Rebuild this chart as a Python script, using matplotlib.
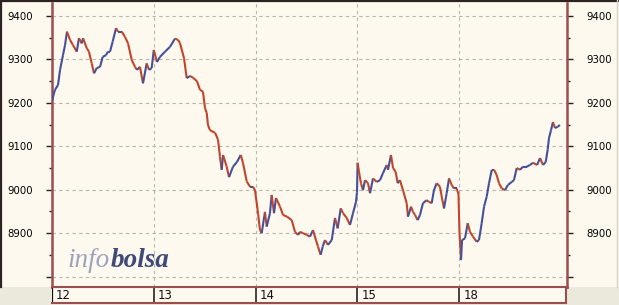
import matplotlib.pyplot as plt
from matplotlib.collections import LineCollection
from matplotlib.lines import Line2D
from matplotlib.patches import Rectangle
import numpy as np

# colours
C_BG = "#fdf9ee"
C_GREY = "#ebe8dc"
C_FRAME = "#9c4e4e"
C_GRID = "#b8b4ac"
C_UP = "#44509a"
C_DOWN = "#c0452c"

# ------------------------------------------------------------
# data: session time (trading-day units) and index level
# ------------------------------------------------------------
day_labels = ["12", "13", "14", "15", "18"]
day_pos = [0, 1, 2, 3, 4]

t = [0.000, 0.029, 0.059, 0.079, 0.108, 0.128, 0.147, 0.177, 0.206, 0.243,
     0.265, 0.292, 0.305, 0.341, 0.363, 0.390, 0.413, 0.439, 0.472, 0.498,
     0.530, 0.550, 0.570, 0.596, 0.629, 0.648, 0.685, 0.717, 0.747, 0.783,
     0.815, 0.835, 0.864, 0.894, 0.930, 0.953, 0.979,
     1.000, 1.031, 1.061, 1.110, 1.159, 1.208, 1.238, 1.257, 1.297, 1.323,
     1.356, 1.385, 1.424, 1.454, 1.483, 1.503, 1.520, 1.532, 1.552, 1.603,
     1.631, 1.650, 1.667, 1.680, 1.716, 1.739, 1.778, 1.817, 1.854, 1.876,
     1.913, 1.945, 1.974, 1.994,
     2.024, 2.043, 2.060, 2.092, 2.109, 2.141, 2.158, 2.181, 2.200, 2.240,
     2.269, 2.308, 2.355, 2.387, 2.417, 2.436, 2.466, 2.502, 2.534, 2.564,
     2.593, 2.613, 2.639, 2.659, 2.682, 2.711, 2.748, 2.780, 2.806, 2.836,
     2.859, 2.895, 2.927, 2.957, 2.986, 2.996,
     3.002, 3.016, 3.035, 3.055, 3.075, 3.104, 3.124, 3.153, 3.190, 3.222,
     3.251, 3.288, 3.301, 3.330, 3.350, 3.376, 3.396, 3.418, 3.448, 3.484,
     3.497, 3.527, 3.546, 3.566, 3.592, 3.615, 3.644, 3.681, 3.703, 3.730,
     3.752, 3.779, 3.811, 3.831, 3.851, 3.877, 3.900, 3.926, 3.949, 3.975,
     3.993,
     4.003, 4.018, 4.028, 4.057, 4.084, 4.106, 4.136, 4.172, 4.194, 4.221,
     4.244, 4.270, 4.293, 4.320, 4.342, 4.368, 4.391, 4.418, 4.450, 4.479,
     4.516, 4.538, 4.565, 4.597, 4.627, 4.663, 4.695, 4.725, 4.766, 4.794,
     4.823, 4.850, 4.869, 4.882, 4.902, 4.921, 4.941, 4.967, 4.990]

precio = [9205, 9230, 9241, 9276, 9310, 9333, 9364, 9345, 9333, 9318,
          9349, 9337, 9349, 9326, 9318, 9291, 9268, 9280, 9283, 9306,
          9310, 9318, 9318, 9341, 9372, 9364, 9364, 9352, 9337, 9299,
          9283, 9276, 9283, 9245, 9291, 9276, 9280,
          9322, 9294, 9306, 9318, 9329, 9348, 9345, 9338, 9303, 9257,
          9262, 9258, 9250, 9230, 9226, 9188, 9177, 9149, 9137, 9131,
          9115, 9076, 9046, 9080, 9053, 9029, 9053, 9064, 9080, 9062,
          9019, 9007, 9007, 8999,
          8946, 8907, 8900, 8949, 8915, 8946, 8988, 8946, 8981, 8961,
          8942, 8938, 8930, 8903, 8896, 8903, 8900, 8896, 8892, 8907,
          8884, 8869, 8850, 8869, 8884, 8873, 8884, 8935, 8911, 8957,
          8946, 8935, 8919, 8946, 8972, 8994,
          9062, 9041, 9015, 8999, 9022, 9015, 8992, 9026, 9018, 9022,
          9038, 9057, 9046, 9080, 9050, 9041, 9015, 9022, 8999, 8969,
          8938, 8961, 8949, 8942, 8930, 8942, 8969, 8976, 8972, 8969,
          8999, 9015, 9007, 8981, 8957, 8992, 9026, 9011, 9003, 9003,
          8990,
          8900, 8838, 8884, 8888, 8923, 8903, 8892, 8880, 8884, 8923,
          8961, 8984, 9015, 9046, 9046, 9034, 9015, 9003, 8999, 9011,
          9018, 9022, 9050, 9046, 9053, 9053, 9057, 9062, 9057, 9073,
          9057, 9064, 9092, 9119, 9137, 9156, 9142, 9145, 9149]

y_major = [8900, 9000, 9100, 9200, 9300, 9400]

# ------------------------------------------------------------
W, H = 619, 305
fig = plt.figure(figsize=(W / 100, H / 100), dpi=100, facecolor=C_GREY)
fig.patches.append(Rectangle((0, 1 - 287 / H), 1, 287 / H, transform=fig.transFigure,
                             facecolor=C_BG, edgecolor="none", zorder=-5))
# marco oscuro arriba/izquierda, claro a la derecha
fig.lines.append(Line2D([0.002, 0.002], [1 - 287 / H, 1], transform=fig.transFigure,
                        color="#2e2222", lw=1.6))
fig.lines.append(Line2D([0, 1], [0.996, 0.996], transform=fig.transFigure,
                        color="#2e2222", lw=1.6))
fig.lines.append(Line2D([0.997, 0.997], [1 - 287 / H, 1], transform=fig.transFigure,
                        color="#d6d2c6", lw=1.0))

x0, x1 = 52 / W, 567 / W
ax = fig.add_axes([x0, 1 - 287 / H, x1 - x0, (287 - 3) / H])
ax.set_facecolor(C_BG)
ax.set_xlim(0, 5.059)
ax.set_ylim(8776, 9430)

pts = np.column_stack([t, precio])
segs = np.stack([pts[:-1], pts[1:]], axis=1)
cols = [C_UP if b >= a else C_DOWN for a, b in zip(precio[:-1], precio[1:])]
ax.add_collection(LineCollection(segs, colors=cols, linewidths=1.5, zorder=3))

ax.set_yticks(y_major + [8800])
ax.set_yticklabels([str(v) for v in y_major] + [""])
ax.set_yticks(np.arange(8800, 9401, 50), minor=True)
ax.set_xticks(day_pos)
ax.tick_params(axis="x", length=0, labelbottom=False)
ax.tick_params(axis="y", which="major", direction="out", length=4.5, width=1.0,
               color="#222", labelsize=7.3, pad=9.5, left=True, right=True,
               labelleft=True, labelright=True)
ax.tick_params(axis="y", which="minor", direction="out", length=2.2, width=1.0,
               color="#222", left=True, right=True)
for lab in ax.get_yticklabels():
    lab.set_family("DejaVu Sans")

ax.grid(True, which="major", color=C_GRID, ls=(0, (3, 3)), lw=0.8)
ax.set_axisbelow(True)
for s in ("left", "right"):
    ax.spines[s].set_color(C_FRAME); ax.spines[s].set_linewidth(1.8)
ax.spines["top"].set_visible(False)
ax.spines["bottom"].set_color(C_FRAME); ax.spines["bottom"].set_linewidth(1.8)

# marca de agua
t1 = ax.text(0.031, 0.072, "info", transform=ax.transAxes, va="baseline",
             family="Liberation Serif", style="italic", fontsize=19.5,
             color="#9ea3bd", zorder=2)
fig.canvas.draw()
bb = t1.get_window_extent()
xb = ax.transAxes.inverted().transform((bb.x1, bb.y0))[0]
ax.text(xb, 0.072, "bolsa", transform=ax.transAxes, va="baseline",
        family="Liberation Serif", style="italic", weight="bold", fontsize=19.5,
        color="#3e4b78", zorder=2)

# franja de fechas
axd = fig.add_axes([x0, 1 - 303 / H, 566 / W - x0, 16 / H])
axd.set_facecolor(C_BG)
axd.set_xlim(0, 5.05)
axd.set_ylim(0, 1)
axd.set_xticks([]); axd.set_yticks([])
for s in ("top", "bottom", "right"):
    axd.spines[s].set_color(C_FRAME); axd.spines[s].set_linewidth(1.5)
axd.spines["left"].set_visible(False)
for d, lab in zip(day_pos, day_labels):
    axd.axvline(d, color="#111", lw=1.6 if d == 0 else 1.1)
    axd.text(d + 0.04, 0.45, lab, va="center", ha="left", fontsize=8.5,
             family="DejaVu Sans", color="#111")

fig.savefig("out.png", dpi=100, facecolor=fig.get_facecolor())
